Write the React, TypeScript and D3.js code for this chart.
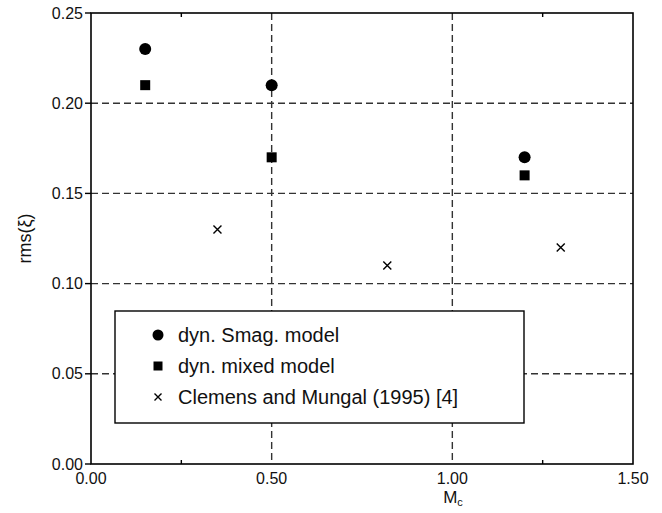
import React from "react";
import * as d3 from "d3";

const smagX = [0.15, 0.5, 1.2];
const smagY = [0.23, 0.21, 0.17];
const mixedX = [0.15, 0.5, 1.2];
const mixedY = [0.21, 0.17, 0.16];
const clemensX = [0.35, 0.82, 1.3];
const clemensY = [0.13, 0.11, 0.12];
const xTicks = [0, 0.5, 1.0, 1.5];
const yTicks = [0, 0.05, 0.1, 0.15, 0.2, 0.25];
const xMinor = [0.25, 1.25];
const legendLabels = ["dyn. Smag. model", "dyn. mixed model", "Clemens and Mungal (1995) [4]"];

const W = 662, H = 513;
const L = 91, R = 633, T = 13, B = 464;

export default function App() {
  const x = d3.scaleLinear().domain([0, 1.5]).range([L, R]);
  const y = d3.scaleLinear().domain([0, 0.25]).range([B, T]);
  const fmt = d3.format(".2f");
  const font = "Liberation Sans, Arial, Helvetica, sans-serif";
  const gridStyle = { stroke: "#333", strokeWidth: 1.4, strokeDasharray: "7,4" };

  const cross = (cx: number, cy: number, s: number, key: string) => (
    <path key={key} d={`M${cx - s},${cy - s}L${cx + s},${cy + s}M${cx - s},${cy + s}L${cx + s},${cy - s}`} stroke="#000" strokeWidth={1.4} fill="none" />
  );

  const legX = 115, legY = 311, legW = 409, legH = 112;
  const rowY = [335, 366, 397];
  const markX = 158;

  return (
    <svg width={W} height={H} style={{ position: "absolute", left: 0, top: 0, background: "#fff" }} fontFamily={font}>
      <rect x={0} y={0} width={W} height={H} fill="#fff" />
      {yTicks.filter((t) => t > 0 && t < 0.25).map((t) => (
        <line key={"gy" + t} x1={L} x2={R} y1={y(t)} y2={y(t)} {...gridStyle} />
      ))}
      {xTicks.filter((t) => t > 0 && t < 1.5).map((t) => (
        <line key={"gx" + t} x1={x(t)} x2={x(t)} y1={T} y2={B} {...gridStyle} />
      ))}
      <rect x={L} y={T} width={R - L} height={B - T} fill="none" stroke="#000" strokeWidth={1.6} />
      {yTicks.map((t) => (
        <g key={"yt" + t}>
          <line x1={L - 6} x2={L} y1={y(t)} y2={y(t)} stroke="#000" strokeWidth={1.4} />
          <text x={L - 8} y={y(t)} dy="0.35em" textAnchor="end" fontSize={16} fill="#111">{fmt(t)}</text>
        </g>
      ))}
      {xTicks.map((t) => (
        <text key={"xt" + t} x={x(t)} y={B + 20} textAnchor="middle" fontSize={16} fill="#111">{fmt(t)}</text>
      ))}
      {xMinor.map((t) => (
        <g key={"xm" + t}>
          <line x1={x(t)} x2={x(t)} y1={B} y2={B - 4} stroke="#000" strokeWidth={1.4} />
          <line x1={x(t)} x2={x(t)} y1={T} y2={T + 4} stroke="#000" strokeWidth={1.4} />
        </g>
      ))}
      <text x={453} y={503} textAnchor="middle" fontSize={17} fill="#111">
        M<tspan fontSize={11} dy={3}>c</tspan>
      </text>
      <text transform={`translate(31,${(T + B) / 2}) rotate(-90)`} textAnchor="middle" fontSize={18} fill="#111">rms(ξ)</text>
      {smagX.map((v, i) => (
        <circle key={"c" + i} cx={x(v)} cy={y(smagY[i])} r={6} fill="#000" />
      ))}
      {mixedX.map((v, i) => (
        <rect key={"s" + i} x={x(v) - 5} y={y(mixedY[i]) - 5} width={10} height={10} fill="#000" />
      ))}
      {clemensX.map((v, i) => cross(x(v), y(clemensY[i]), 4, "x" + i))}
      <rect x={legX} y={legY} width={legW} height={legH} fill="#fff" stroke="#000" strokeWidth={1.4} />
      <circle cx={markX} cy={rowY[0]} r={5.5} fill="#000" />
      <rect x={markX - 4.5} y={rowY[1] - 4.5} width={9} height={9} fill="#000" />
      {cross(markX, rowY[2], 3.5, "lx")}
      {legendLabels.map((l, i) => (
        <text key={"l" + i} x={178} y={rowY[i]} dy="0.35em" fontSize={20} fill="#111">{l}</text>
      ))}
    </svg>
  );
}
